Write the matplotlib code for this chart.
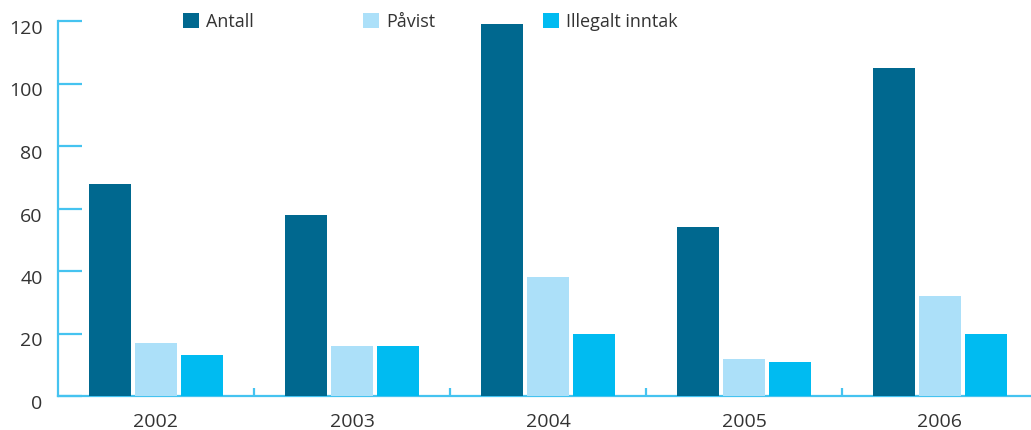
import matplotlib
matplotlib.use("Agg")
import matplotlib.pyplot as plt
import matplotlib.transforms as mtransforms
from matplotlib.patches import Patch
import numpy as np

years = ["2002", "2003", "2004", "2005", "2006"]
series_names = ["Antall", "Påvist", "Illegalt inntak"]
antall = [68, 58, 119, 54, 105]
pavist = [17, 16, 38, 12, 32]
illegalt = [13, 16, 20, 11, 20]
yticks = [0, 20, 40, 60, 80, 100, 120]

colors = ["#00688F", "#ACE0F9", "#00BBF1"]
axis_color = "#45C3F0"
text_color = "#333333"

plt.rcParams['font.family'] = ['Open Sans', 'DejaVu Sans']

W, H = 1031, 430
fig = plt.figure(figsize=(W / 100, H / 100), dpi=100)
left_px, bottom_px, top_px = 58, 396, 21
ax = fig.add_axes([left_px / W, (H - bottom_px) / H, 1 - left_px / W, (bottom_px - top_px) / H])

cat_px = 196.0
x = np.arange(len(years))
bw = 42 / cat_px
step = 46 / cat_px
for i, (vals, c) in enumerate(zip([antall, pavist, illegalt], colors)):
    ax.bar(x + (i - 1) * step, vals, width=bw, color=c, zorder=3, linewidth=0)

ax.set_xlim(-0.5, -0.5 + (W - left_px) / cat_px)
ax.set_ylim(0, 120)

for s in ["top", "right"]:
    ax.spines[s].set_visible(False)
for s in ["left", "bottom"]:
    ax.spines[s].set_color(axis_color)
    ax.spines[s].set_linewidth(1.6)
    ax.spines[s].set_zorder(2)

ax.set_yticks(yticks)
ax.set_yticklabels([str(v) for v in yticks])
ax.tick_params(axis='y', direction='in', length=17.5, width=1.6, color=axis_color,
               labelsize=14, labelcolor=text_color, pad=11)
offset = mtransforms.ScaledTranslation(0, -6 / 100, fig.dpi_scale_trans)
for lab in ax.get_yticklabels():
    lab.set_transform(lab.get_transform() + offset)

ax.set_xticks(x)
ax.set_xticklabels(years)
ax.set_xticks(np.arange(len(years) - 1) + 0.5, minor=True)
ax.tick_params(axis='x', which='major', length=0, labelsize=14, labelcolor=text_color, pad=12)
ax.tick_params(axis='x', which='minor', direction='in', length=6, width=1.6, color=axis_color)

# legend entries
leg_x = [183, 363, 543]
for name, c, lx in zip(series_names, colors, leg_x):
    lg = fig.legend(handles=[Patch(facecolor=c, edgecolor='none')], labels=[name],
                    loc='center left', bbox_to_anchor=(lx / W, 1 - 22 / H),
                    bbox_transform=fig.transFigure, frameon=False,
                    handlelength=0.9, handleheight=0.9, handletextpad=0.4,
                    borderpad=0, borderaxespad=0, fontsize=13, labelcolor=text_color)

fig.savefig("out.png", dpi=100)
